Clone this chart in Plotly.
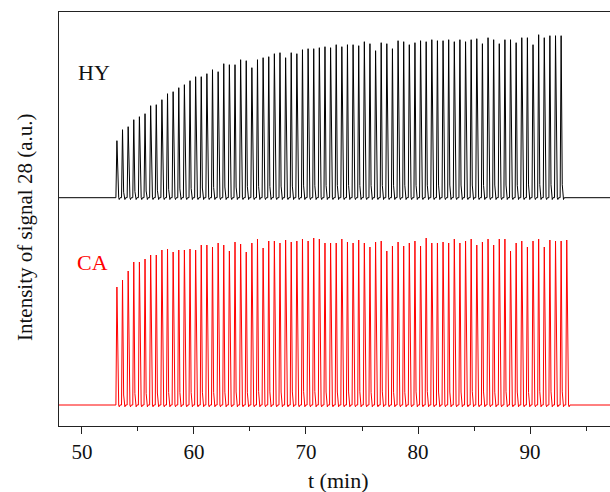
import numpy as np
import plotly.graph_objects as go

# Pulse-chemisorption traces of signal m/z 28 for two samples
samples = ["HY", "CA"]
colors = {"HY": "#000000", "CA": "#ff0000"}

# peak heights of successive pulses (a.u.)
hy_peaks = [57, 68, 71, 78, 81, 84, 92, 93, 98, 104,
            106, 110, 113, 117, 121, 121, 124, 128, 126, 134,
            133, 133, 138, 137, 130, 138, 140, 141, 144, 145,
            140, 145, 144, 148, 149, 149, 150, 151, 150, 153,
            151, 153, 153, 152, 156, 154, 147, 155, 154, 149,
            157, 156, 153, 155, 157, 156, 158, 157, 157, 158,
            156, 158, 156, 158, 159, 154, 160, 158, 154, 158,
            158, 155, 160, 160, 153, 163, 160, 162, 162, 162]
ca_peaks = [118, 125, 134, 143, 143, 146, 150, 150, 155, 156,
            153, 155, 155, 156, 155, 160, 160, 158, 162, 160,
            154, 163, 161, 153, 162, 166, 157, 164, 164, 162,
            165, 163, 164, 166, 164, 167, 166, 162, 162, 162,
            166, 163, 162, 165, 162, 158, 163, 164, 154, 159,
            163, 159, 162, 164, 159, 167, 162, 162, 163, 162,
            166, 162, 164, 166, 160, 163, 166, 160, 166, 166,
            154, 162, 164, 158, 164, 166, 158, 165, 164, 164, 165]

first_pulse = {"HY": 53.12, "CA": 53.12}   # min
pulse_interval = 0.502                      # min between injections
offsets = {"HY": 228.3, "CA": 21.0}         # vertical stacking of the traces
t_start, t_end = 47.9, 98.0                 # recorded time window (min)

x_ticks = [50, 60, 70, 80, 90]


def build_trace(peaks, t0, offset):
    t = [t_start]
    y = [offset]
    for i, h in enumerate(peaks):
        tp = t0 + i * pulse_interval
        t += [tp - 0.09, tp, tp + 0.1, tp + 0.16, tp + 0.21, tp + 0.28]
        y += [offset, offset + h, offset + 0.08 * h, offset, offset - 1.8, offset]
    t.append(t_end)
    y.append(offset)
    return t, y


fig = go.Figure()
for name, peaks in (("HY", hy_peaks), ("CA", ca_peaks)):
    tx, ty = build_trace(peaks, first_pulse[name], offsets[name])
    fig.add_trace(go.Scatter(x=tx, y=ty, mode="lines",
                             line=dict(color=colors[name], width=1),
                             showlegend=False, hoverinfo="skip"))

serif = "'Liberation Serif', 'Times New Roman', Times, serif"
plot_l, plot_t, plot_b = 59, 12, 426
W, H = 610, 492
pw = W - plot_l
ph = plot_b - plot_t

fig.update_layout(
    width=W, height=H,
    margin=dict(l=plot_l, r=0, t=plot_t, b=H - plot_b),
    paper_bgcolor="white", plot_bgcolor="white",
    font=dict(family=serif, size=21, color="#111"),
    xaxis=dict(range=[47.95, 97.14], tickmode="array", tickvals=x_ticks,
               ticks="outside", ticklen=7, tickwidth=1.2, tickcolor="#222",
               showline=True, linecolor="#222", linewidth=1.3, mirror=True,
               showgrid=False, zeroline=False,
               tickfont=dict(family=serif, size=21, color="#111"),
               minor=dict(tickvals=[55, 65, 75, 85, 95], ticks="outside",
                          ticklen=4, tickwidth=1.2, tickcolor="#222")),
    yaxis=dict(range=[0, ph], showticklabels=False, ticks="",
               showline=True, linecolor="#222", linewidth=1.3,
               showgrid=False, zeroline=False),
)

annotations = [
    dict(text="t (min)", x=(338 - plot_l) / pw, y=0, xref="paper", yref="paper",
         xanchor="center", yanchor="middle", yshift=-(480 - plot_b),
         showarrow=False, font=dict(family=serif, size=22, color="#111")),
    dict(text="Intensity of signal 28 (a.u.)", x=0, y=(plot_b - 228) / ph,
         xref="paper", yref="paper", xanchor="center", yanchor="middle",
         xshift=-(plot_l - 25), textangle=-90, showarrow=False,
         font=dict(family=serif, size=21, color="#111")),
    dict(text="HY", x=(94 - plot_l) / pw, y=(plot_b - 72) / ph,
         xref="paper", yref="paper", xanchor="center", yanchor="middle",
         showarrow=False, font=dict(family=serif, size=22, color="#111")),
    dict(text="CA", x=(92 - plot_l) / pw, y=(plot_b - 262) / ph,
         xref="paper", yref="paper", xanchor="center", yanchor="middle",
         showarrow=False, font=dict(family=serif, size=22, color="#ff0000")),
]
fig.update_layout(annotations=annotations)

fig.write_html("out.html")
